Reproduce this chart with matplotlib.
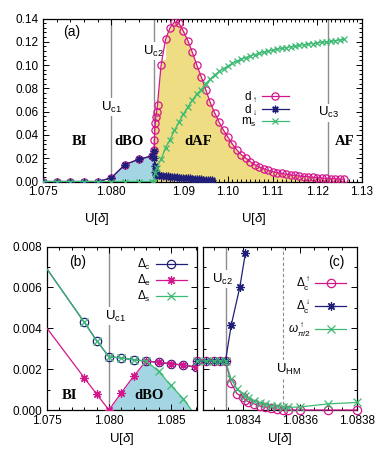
import numpy as np
import matplotlib
matplotlib.use("Agg")
import matplotlib.pyplot as plt
from matplotlib.ticker import FixedLocator, FixedFormatter, MultipleLocator, NullFormatter, FormatStrFormatter

plt.rcParams['font.family'] = ['Liberation Sans', 'DejaVu Sans']
plt.rcParams['mathtext.fontset'] = 'custom'
plt.rcParams['mathtext.rm'] = 'Liberation Sans'
plt.rcParams['mathtext.it'] = 'Liberation Sans:italic'
plt.rcParams['mathtext.bf'] = 'Liberation Sans:bold'

MAG = '#d4168c'
NAVY = '#1f1f7a'
GREEN = '#3dba73'
GREY = '#8c8c8c'
BLUE_FILL = '#a3d6e2'
YEL_FILL = '#eedd82'
STAR = (8, 2, 0)

# ---------------- panel (a) data ----------------
u_up = [1.075, 1.076, 1.077, 1.078, 1.079, 1.080, 1.081, 1.082, 1.083,
        1.0834, 1.0835, 1.0836, 1.0837, 1.0838, 1.0840, 1.0842,
        1.085, 1.086, 1.087, 1.088, 1.089, 1.090, 1.091, 1.092, 1.093, 1.094,
        1.095, 1.096, 1.097, 1.098, 1.099, 1.100, 1.101, 1.102, 1.103, 1.104,
        1.105, 1.106, 1.107, 1.108, 1.109, 1.110, 1.111, 1.112, 1.113, 1.114,
        1.115, 1.116, 1.117, 1.118, 1.119, 1.120, 1.121, 1.122, 1.123, 1.124,
        1.125, 1.126]
d_up = [0, 0, 0, 0, 0, 0.003, 0.0145, 0.019, 0.022,
        0.027, 0.036, 0.044, 0.050, 0.055, 0.060, 0.066,
        0.100, 0.122, 0.132, 0.137, 0.136, 0.129, 0.121, 0.111, 0.100, 0.090,
        0.079, 0.068, 0.059, 0.051, 0.044, 0.038, 0.032, 0.027, 0.023, 0.020,
        0.017, 0.0145, 0.0125, 0.011, 0.0095, 0.0085, 0.0077, 0.007, 0.0063, 0.0057,
        0.0052, 0.0047, 0.0043, 0.004, 0.0036, 0.0033, 0.003, 0.0027, 0.0025, 0.0023,
        0.0021, 0.002]

u_dn = [1.075, 1.076, 1.077, 1.078, 1.079, 1.080, 1.081, 1.082, 1.083,
        1.0834, 1.0835, 1.0836, 1.0837, 1.0838,
        1.0840, 1.0845, 1.0850, 1.0855, 1.0860, 1.0865, 1.0870, 1.0875, 1.0880,
        1.0885, 1.0890, 1.0895, 1.0900, 1.0905, 1.0910, 1.0915, 1.0920, 1.0925,
        1.0930, 1.0935, 1.0940, 1.0945, 1.0950, 1.0955, 1.0960, 1.0965]
d_dn = [0, 0, 0, 0, 0, 0.003, 0.0145, 0.019, 0.022,
        0.026, 0.020, 0.013, 0.008, 0.006,
        0.0055, 0.0052, 0.005, 0.0048, 0.0046, 0.0044, 0.0042, 0.004, 0.0038,
        0.0036, 0.0034, 0.0032, 0.003, 0.0029, 0.0027, 0.0026, 0.0024, 0.0023,
        0.0021, 0.002, 0.0018, 0.0017, 0.0015, 0.0014, 0.0013, 0.0012]

u_ms = [1.075, 1.076, 1.077, 1.078, 1.079, 1.080, 1.081, 1.082, 1.083,
        1.0834, 1.0836, 1.0840,
        1.085, 1.086, 1.087, 1.088, 1.089, 1.090, 1.091, 1.092, 1.093, 1.094,
        1.095, 1.096, 1.097, 1.098, 1.099, 1.100, 1.101, 1.102, 1.103, 1.104,
        1.105, 1.106, 1.107, 1.108, 1.109, 1.110, 1.111, 1.112, 1.113, 1.114,
        1.115, 1.116, 1.117, 1.118, 1.119, 1.120, 1.121, 1.122, 1.123, 1.124,
        1.125, 1.126]
m_s = [0, 0, 0, 0, 0, 0, 0, 0, 0,
       0, 0.007, 0.012,
       0.019, 0.029, 0.036, 0.044, 0.051, 0.058, 0.064, 0.070, 0.075, 0.079,
       0.084, 0.088, 0.0915, 0.0945, 0.097, 0.0993, 0.1015, 0.1033, 0.105, 0.1065,
       0.108, 0.109, 0.110, 0.111, 0.112, 0.1128, 0.1136, 0.1143, 0.115, 0.1157,
       0.1163, 0.1169, 0.1175, 0.118, 0.1185, 0.119, 0.1195, 0.120, 0.1205, 0.121,
       0.1215, 0.122]

Uc1, Uc2, Uc3 = 1.080, 1.0834, 1.1225
U_BREAK = 1.083

# ---------------- panel (b) data ----------------
u_b = [1.075, 1.078, 1.079, 1.080, 1.081, 1.082, 1.083, 1.084, 1.085, 1.086, 1.087]
delta_c = [0.0069, 0.0043, 0.0034, 0.0026, 0.00255, 0.00245, 0.0024, 0.00233, 0.00226, 0.0022, 0.0021]
delta_e = [0.0040, 0.00158, 0.00078, 0.0, 0.00085, 0.00166, 0.0024, 0.00233, 0.00226, 0.0022, 0.0021]
delta_s = [0.0069, 0.0043, 0.0034, 0.0026, 0.00255, 0.00245, 0.0024, 0.0019, 0.0012, 0.00055, -0.0003]

# ---------------- panel (c) data ----------------
u_c = [1.08324, 1.08327, 1.08330, 1.08332, 1.08334, 1.08336, 1.08338, 1.08340, 1.08341,
       1.08342, 1.08344, 1.08346, 1.08348, 1.08350, 1.08352, 1.08354, 1.08356,
       1.08360, 1.08370, 1.08380]
dc_up = [0.0024, 0.0024, 0.0024, 0.0024, 0.0024, 0.0013, 0.0008, 0.00065, 0.0005,
         0.0004, 0.0003, 0.0002, 0.00015, 0.0001, 0.00005, 0.0, 0.0,
         0.0, 0.0, 0.0]
omega = [0.0024, 0.0024, 0.0024, 0.0024, 0.0024, 0.0015, 0.00105, 0.0008, 0.00068,
         0.00058, 0.00045, 0.00035, 0.00028, 0.00022, 0.00018, 0.00015, 0.00013,
         0.00015, 0.0003, 0.00037]
u_c_dn = [1.08324, 1.08327, 1.08330, 1.08332, 1.08334, 1.08336, 1.08339, 1.08341]
dc_dn = [0.0024, 0.0024, 0.0024, 0.0024, 0.0024, 0.00415, 0.0060, 0.0077]
Uc2_c = 1.08334
U_HM = 1.08354


def fwd(u):
    u = np.asarray(u, dtype=float)
    return np.where(u <= U_BREAK, (u - 1.075) * 13.6, (U_BREAK - 1.075) * 13.6 + (u - U_BREAK) * 4.45)


def inv(v):
    v = np.asarray(v, dtype=float)
    vb = (U_BREAK - 1.075) * 13.6
    return np.where(v <= vb, 1.075 + v / 13.6, U_BREAK + (v - vb) / 4.45)


def style_ticks(ax):
    ax.tick_params(which='both', direction='in', top=True, right=True, labelsize=8.5, width=0.7)
    ax.tick_params(which='major', length=4)
    ax.tick_params(which='minor', length=2)
    for s in ax.spines.values():
        s.set_linewidth(0.9)


fig = plt.figure(figsize=(3.79, 4.57), dpi=100)

# ================= (a) =================
ax = fig.add_axes([0.1135, 0.6028, 0.8415, 0.3567])
ax.set_xscale('function', functions=(fwd, inv))
u_up_a = np.array(u_up)
d_up_a = np.array(d_up)
m1 = (u_up_a >= Uc1) & (u_up_a <= Uc2)
m2 = u_up_a >= Uc2
ax.fill_between(u_up_a[m1], 0, d_up_a[m1], color=BLUE_FILL, lw=0, zorder=1)
ax.fill_between(u_up_a[m2], 0, d_up_a[m2], color=YEL_FILL, lw=0, zorder=1)
for uc in (Uc1, Uc2, Uc3):
    ax.axvline(uc, color=GREY, lw=1.0, zorder=1.5)
ax.plot(u_up, d_up, color=MAG, marker='o', ms=5.2, mfc='none', mew=0.9, lw=0.9,
        label=r'$\mathrm{d}_{\uparrow}$', zorder=3)
ax.plot(u_dn, d_dn, color=NAVY, marker=STAR, ms=5.5, mew=0.9, lw=0.9,
        label=r'$\mathrm{d}_{\downarrow}$', zorder=4)
ax.plot(u_ms, m_s, color=GREEN, marker='x', ms=5, mew=0.9, lw=0.9,
        label=r'$\mathrm{m}_{\mathrm{s}}$', zorder=5)
ax.set_xlim(1.075, 1.13)
ax.set_ylim(0, 0.14)
xt = [1.075, 1.080, 1.09, 1.10, 1.11, 1.12, 1.13]
ax.xaxis.set_major_locator(FixedLocator(xt))
ax.xaxis.set_major_formatter(FixedFormatter(['1.075', '1.080', '1.09', '1.10', '1.11', '1.12', '1.13']))
minor_a = [1.076, 1.077, 1.078, 1.079, 1.081, 1.082] + [1.083 + 0.001 * k for k in range(1, 47) if k not in (7, 17, 27, 37)]
ax.xaxis.set_minor_locator(FixedLocator(minor_a))
ax.yaxis.set_major_locator(MultipleLocator(0.02))
ax.yaxis.set_minor_locator(MultipleLocator(0.004))
ax.yaxis.set_major_formatter(FormatStrFormatter('%.2f'))
style_ticks(ax)

bb = dict(facecolor='white', edgecolor='none', pad=1.0)
ax.text(0.062, 0.92, '(a)', transform=ax.transAxes, fontsize=10, ha='left', va='center')
ax.text(Uc1, 0.064, r'U$_{\mathrm{c1}}$', fontsize=9.5, ha='center', va='center', bbox=bb, zorder=2)
ax.text(Uc2, 0.112, r'U$_{\mathrm{c2}}$', fontsize=9.5, ha='center', va='center', bbox=bb, zorder=2)
ax.text(Uc3, 0.059, r'U$_{\mathrm{c3}}$', fontsize=9.5, ha='center', va='center', bbox=bb, zorder=2)
serif = dict(family='Liberation Serif', weight='bold', fontsize=10.5, ha='center', va='center')
ax.text(1.0777, 0.034, 'BI', **serif)
ax.text(1.0813, 0.034, 'dBO', **serif)
ax.text(1.0934, 0.034, 'dAF', **serif)
ax.text(1.1262, 0.034, 'AF', bbox=bb, zorder=2, **serif)
leg = ax.legend(loc='upper right', bbox_to_anchor=(0.79, 0.60), frameon=False, markerfirst=False,
                fontsize=8.5, handlelength=2.3, handletextpad=0.4, labelspacing=-0.1, borderpad=0)
fig.text(97 / 379, 1 - 219 / 457, r'U[$\delta$]', fontsize=9.5, ha='center', va='center')
fig.text(254 / 379, 1 - 219 / 457, r'U[$\delta$]', fontsize=9.5, ha='center', va='center')

# ================= (b) =================
axb = fig.add_axes([0.124, 0.1028, 0.3958, 0.3578])
ub = np.array(u_b)
low = np.minimum(np.array(delta_e), np.array(delta_s))
mb = ub >= Uc1
axb.fill_between(ub[mb], 0, low[mb], where=low[mb] >= 0, interpolate=True, color=BLUE_FILL, lw=0, zorder=1)
axb.axvline(Uc1, color=GREY, lw=1.0, zorder=1.5)
me = slice(1, None)
axb.plot(u_b, delta_c, color=NAVY, marker='o', ms=6, mfc='none', mew=0.9, lw=0.9, markevery=me,
         label=r'$\Delta_{\mathrm{c}}$', zorder=3)
axb.plot(u_b, delta_e, color=MAG, marker=STAR, ms=6, mew=0.9, lw=0.9, markevery=me,
         label=r'$\Delta_{\mathrm{e}}$', zorder=4)
axb.plot(u_b, delta_s, color=GREEN, marker='x', ms=5.5, mew=0.9, lw=0.9, markevery=me,
         label=r'$\Delta_{\mathrm{s}}$', zorder=5)
axb.set_xlim(1.075, 1.0871)
axb.set_ylim(0, 0.008)
axb.xaxis.set_major_locator(FixedLocator([1.075, 1.080, 1.085]))
axb.xaxis.set_major_formatter(FormatStrFormatter('%.3f'))
axb.xaxis.set_minor_locator(MultipleLocator(0.001))
axb.yaxis.set_major_locator(MultipleLocator(0.002))
axb.yaxis.set_minor_locator(MultipleLocator(0.001))
axb.yaxis.set_major_formatter(FormatStrFormatter('%.3f'))
style_ticks(axb)
axb.text(0.145, 0.905, '(b)', transform=axb.transAxes, fontsize=10, ha='left', va='center')
axb.text(1.0805, 0.0046, r'U$_{\mathrm{c1}}$', fontsize=9.5, ha='center', va='center', bbox=bb, zorder=2)
axb.text(1.0768, 0.0007, 'BI', **serif)
axb.text(1.0832, 0.0007, 'dBO', **serif)
axb.legend(loc='upper right', bbox_to_anchor=(0.97, 0.97), frameon=False, markerfirst=False,
           fontsize=8.5, handlelength=2.6, handletextpad=0.4, labelspacing=0.05, borderpad=0)
axb.set_xlabel(r'U[$\delta$]', fontsize=9.5, labelpad=3)

# ================= (c) =================
axc = fig.add_axes([0.5348, 0.1028, 0.4064, 0.3578])
axc.axvline(Uc2_c, color=GREY, lw=1.0, zorder=1.5)
axc.axvline(U_HM, color=GREY, lw=0.8, ls=(0, (3, 2)), zorder=1.5)
axc.plot(u_c, dc_up, color=MAG, marker='o', ms=6, mfc='none', mew=0.9, lw=0.9,
         label=r'$\Delta^{\uparrow}_{\mathrm{c}}$', zorder=3, clip_on=False)
axc.plot(u_c_dn, dc_dn, color=NAVY, marker=STAR, ms=6, mew=0.9, lw=0.9,
         label=r'$\Delta^{\downarrow}_{\mathrm{c}}$', zorder=4, clip_on=False)
axc.plot(u_c, omega, color=GREEN, marker='x', ms=5.5, mew=0.9, lw=0.9,
         label=r'$\omega^{\uparrow}_{\pi/2}$', zorder=5, clip_on=False)
axc.set_xlim(1.08326, 1.0838)
axc.set_ylim(0, 0.008)
axc.xaxis.set_major_locator(FixedLocator([1.0834, 1.0836, 1.0838]))
axc.xaxis.set_major_formatter(FormatStrFormatter('%.4f'))
axc.xaxis.set_minor_locator(MultipleLocator(0.00005))
axc.yaxis.set_major_locator(MultipleLocator(0.002))
axc.yaxis.set_minor_locator(MultipleLocator(0.001))
axc.yaxis.set_major_formatter(NullFormatter())
style_ticks(axc)
axc.text(0.87, 0.905, '(c)', transform=axc.transAxes, fontsize=10, ha='center', va='center')
axc.text(Uc2_c - 0.00001, 0.0064, r'U$_{\mathrm{c2}}$', fontsize=9.5, ha='center', va='center', bbox=bb, zorder=2)
axc.text(U_HM + 0.00002, 0.002, r'U$_{\mathrm{HM}}$', fontsize=9.5, ha='center', va='center', bbox=bb, zorder=2)
axc.legend(loc='upper right', bbox_to_anchor=(0.97, 0.86), frameon=False, markerfirst=False,
           fontsize=8.5, handlelength=2.6, handletextpad=0.4, labelspacing=0.5, borderpad=0)
axc.set_xlabel(r'U[$\delta$]', fontsize=9.5, labelpad=3)

fig.savefig('out.png', dpi=100)
